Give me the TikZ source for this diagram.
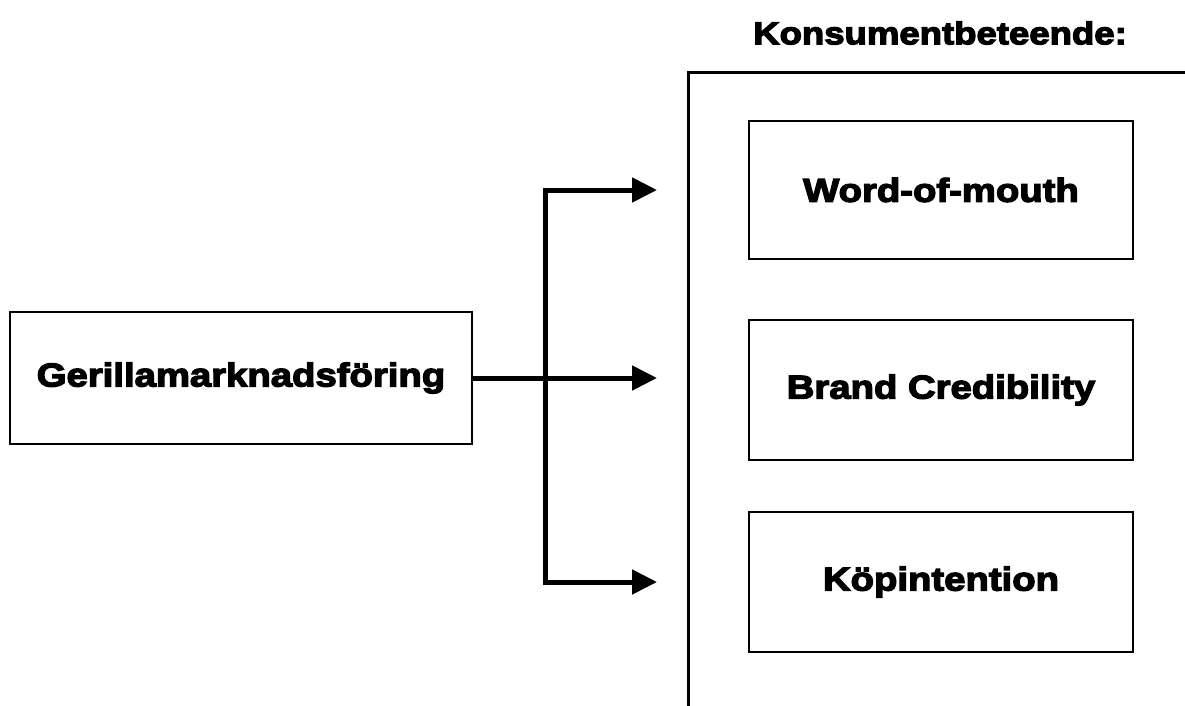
\documentclass[tikz,border=0pt]{standalone}
\usepackage{fontspec}
\usetikzlibrary{arrows.meta}
\newfontfamily\blk[FakeBold=4,FakeStretch=1.16]{Liberation Sans Bold}
\begin{document}
\begin{tikzpicture}[x=1pt,y=-1pt,
  box/.style={draw,line width=1.5pt,inner sep=0pt,align=center,
    font=\blk\fontsize{33}{38}\selectfont},
  conn/.style={line width=5pt,-{Triangle[length=25pt,width=24pt]}},
  conn2/.style={line width=5pt,{Triangle[length=25pt,width=24pt]}-{Triangle[length=25pt,width=24pt]}},
  frame/.style={line width=3pt}]
\useasboundingbox (0,0) rectangle (1185,705);
\node[box,minimum width=462pt,minimum height=132pt] (src) at (241,378) {Gerillamarknadsföring};
\node[box,minimum width=384pt,minimum height=138pt] (wom) at (941,190) {Word-of-mouth};
\node[box,minimum width=384pt,minimum height=140pt] (bc) at (941,390) {Brand Credibility};
\node[box,minimum width=384pt,minimum height=140pt] (kop) at (941,582) {Köpintention};
\node[font=\blk\fontsize{31.5}{36}\selectfont,inner sep=0pt] (title) at (940,33) {Konsumentbeteende:};
\coordinate (ft) at (1185,72);
\coordinate (fc) at (688,72);
\coordinate (fb) at (688,706);
\draw[frame] (ft) -- (fc) -- (fb);
\coordinate (jt) at (545,190);
\coordinate (jb) at (545,582);
\coordinate (tt) at (657,190);
\coordinate (tm) at (657,378);
\coordinate (tb) at (657,582);
\draw[conn] (src.east) -- (tm);
\draw[conn2] (tt) -- (jt) -- (jb) -- (tb);
\end{tikzpicture}
\end{document}
